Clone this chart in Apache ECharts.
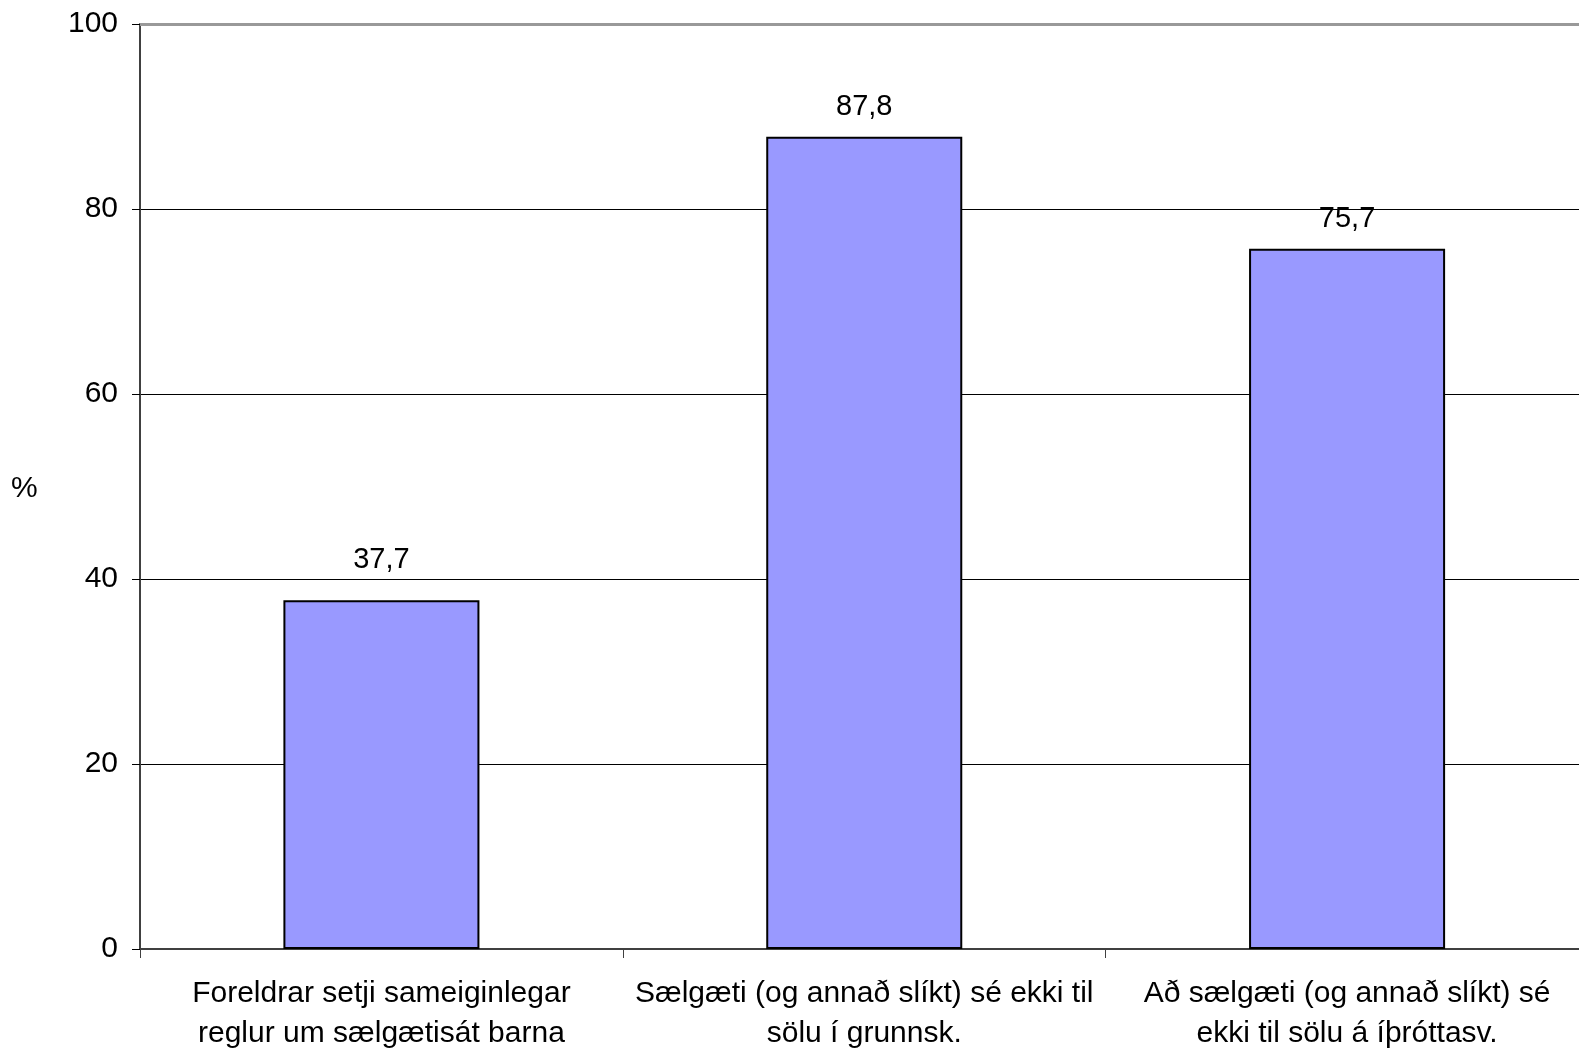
<!DOCTYPE html>
<html><head><meta charset="utf-8">
<script src="https://cdn.jsdelivr.net/npm/echarts@6/dist/echarts.min.js"></script>
<style>html,body{margin:0;padding:0;background:#fff}#c{width:1579px;height:1049px}</style>
</head><body><div id="c"></div>
<script>
const categories = [
  'Foreldrar setji sameiginlegar\nreglur um sælgætisát barna',
  'Sælgæti (og annað slíkt) sé ekki til\nsölu í grunnsk.',
  'Að sælgæti (og annað slíkt) sé\nekki til sölu á íþróttasv.'
];
const values = [37.7, 87.8, 75.7];
const yTicks = [0, 20, 40, 60, 80, 100];
const yTitle = '%';

const labelDistances = [26, 15, 15];
const chart = echarts.init(document.getElementById('c'));
const F = '"Liberation Sans", Arial, sans-serif';
chart.setOption({
  animation: false,
  grid: { left: 140, top: 24, bottom: 100, width: 1448.5, containLabel: false, outerBoundsMode: 'none' },
  graphic: [{ type: 'text', left: 11, top: 474, style: { text: yTitle, font: '30px ' + F, fill: '#000' } }],
  xAxis: {
    type: 'category', data: categories,
    axisLine: { lineStyle: { color: '#404040', width: 2 } },
    axisTick: { show: true, length: 9, lineStyle: { color: '#404040', width: 1 } },
    axisLabel: { color: '#000', fontFamily: F, fontSize: 30, lineHeight: 40, margin: 25, interval: 0 }
  },
  yAxis: {
    type: 'value', min: yTicks[0], max: yTicks[yTicks.length - 1], interval: 20,
    axisLine: { show: true, lineStyle: { color: '#404040', width: 2 } },
    axisTick: { show: true, length: 8, lineStyle: { color: '#000', width: 1 } },
    axisLabel: { color: '#000', fontFamily: F, fontSize: 30, margin: 22 },
    splitLine: { show: true, lineStyle: { color: '#000', width: 1 } }
  },
  series: [{
    type: 'bar', barWidth: '40.6%',
    data: values.map((v, i) => ({ value: v, label: { distance: labelDistances[i] } })),
    itemStyle: { color: '#9999FF', borderColor: '#000', borderWidth: 2 },
    label: { show: true, position: 'top', color: '#000', fontFamily: F, fontSize: 29,
      formatter: p => String(p.value).replace('.', ',') },
    markLine: { silent: true, symbol: 'none', label: { show: false },
      lineStyle: { color: '#999', width: 3, type: 'solid' }, data: [{ yAxis: 100 }] }
  }]
});
</script></body></html>
